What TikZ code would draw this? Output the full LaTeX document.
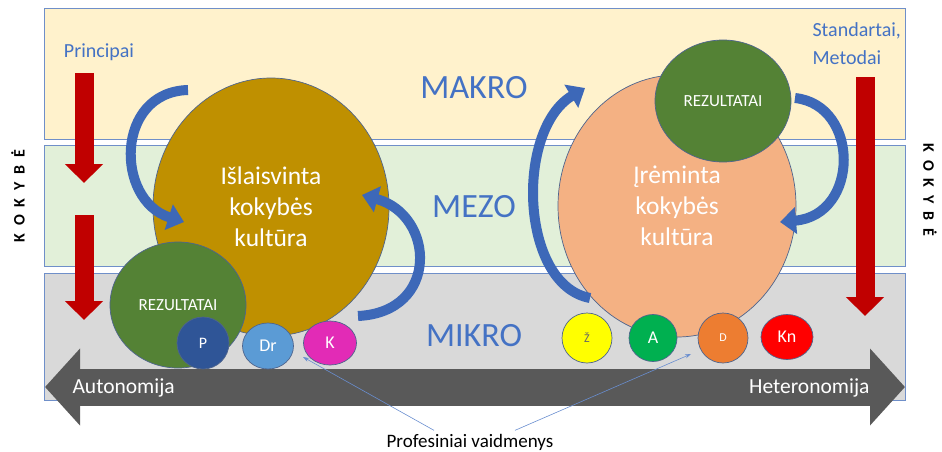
\documentclass[tikz,border=0pt]{standalone}
\usepackage{fontspec}
\setmainfont{Carlito}
\usetikzlibrary{shapes.geometric, arrows.meta, positioning}
\definecolor{makro}{HTML}{FFF2CC}
\definecolor{mezo}{HTML}{E2F0D9}
\definecolor{mikro}{HTML}{D9D9D9}
\definecolor{edge}{HTML}{6F8FC9}
\definecolor{lvl}{HTML}{4472C4}
\definecolor{gold}{HTML}{BF9000}
\definecolor{salmon}{HTML}{F4B183}
\definecolor{rez}{HTML}{548235}
\definecolor{crimson}{HTML}{C00000}
\definecolor{bluearr}{HTML}{3D68B8}
\definecolor{grayarr}{HTML}{595959}
\definecolor{roleP}{HTML}{2F5597}
\definecolor{roleDr}{HTML}{5B9BD5}
\definecolor{roleK}{HTML}{E22BB6}
\definecolor{roleZh}{HTML}{FFFF00}
\definecolor{roleA}{HTML}{00B050}
\definecolor{roleD}{HTML}{ED7D31}
\definecolor{roleKn}{HTML}{FF0000}
\newcommand{\kokybe}{K\kern8pt O\kern8pt K\kern8pt Y\kern8pt B\kern8pt Ė}
\newcommand{\fsz}[1]{\fontsize{#1}{#1}\selectfont}

\begin{document}
\begin{tikzpicture}[x=1pt,y=-1pt,
  band/.style={draw=edge,line width=0.8pt},
  blob/.style={ellipse,draw=edge!70!black,line width=0.7pt,inner sep=0pt,text=white,align=center},
  lvlname/.style={text=lvl,font=\fsz{34}},
  bluearrow/.style={draw=bluearr,line width=10pt,-{Triangle[width=26pt,length=16pt]}},
  redarrow/.style={draw=crimson,line width=19pt,-{Triangle[width=37pt,length=19pt]}},
  pointer/.style={draw=lvl!80,line width=0.6pt,-{Stealth[length=6pt,width=4pt]}}]
\useasboundingbox (0,0) rectangle (942,452);

% levels
\draw[band,fill=makro] (44,8) rectangle (905,139);
\draw[band,fill=mezo] (44,145) rectangle (905,266);
\draw[band,fill=mikro] (44,273) rectangle (905,400);
\node[lvlname] (makro) at (474,88) {MAKRO};
\node[lvlname] (mezo) at (474,207) {MEZO};
\node[lvlname] (mikro) at (474,336) {MIKRO};

% autonomija <-> heteronomija
\draw[grayarr,line width=37pt,{Triangle[width=75pt,length=35pt]}-{Triangle[width=75pt,length=35pt]}] (45,387) -- (905,387);
\node[anchor=west,text=white,font=\fsz{21.5}] (auto) at (69,388) {Autonomija};
\node[anchor=east,text=white,font=\fsz{21.5}] (hetero) at (873,388) {Heteronomija};

% cultures
\node[blob,fill=gold,minimum width=236pt,minimum height=258pt,font=\fontsize{25.5}{31}\selectfont] (laisva) at (271,207) {Išlaisvinta\\kokybės\\kultūra};
\node[blob,fill=salmon,minimum width=238pt,minimum height=262pt,font=\fontsize{25.5}{31}\selectfont] (remin) at (677,206) {Įrėminta\\kokybės\\kultūra};
\node[blob,fill=rez,minimum width=136pt,minimum height=126pt,font=\fsz{17}] (rezA) at (178,305) {REZULTATAI};
\node[blob,fill=rez,minimum width=136pt,minimum height=122pt,font=\fsz{17}] (rezB) at (723,101) {REZULTATAI};

% roles
\foreach \n/\xy/\w/\h/\c/\t/\s in {
  p/{(203,343)}/52/52/roleP/P/16,
  dr/{(268,346)}/51/46/roleDr/Dr/18,
  k/{(330,343)}/53/44/roleK/K/18,
  zh/{(587,338)}/50/50/roleZh/{\textcolor{gray!80!black}{Ž}}/12,
  a/{(653,338)}/48/47/roleA/A/18,
  d/{(723,338)}/50/50/roleD/D/12,
  kn/{(787,337)}/52/45/roleKn/Kn/18}
  \node[blob,fill=\c,minimum width=\w pt,minimum height=\h pt,font=\fsz{\s}] (\n) at \xy {\t};

% flows
\draw[bluearrow] (188,90) .. controls (115,92) and (115,200) .. (184,222);
\draw[bluearrow] (358,316) .. controls (440,312) and (435,215) .. (362,195);
\draw[bluearrow] (590,298) .. controls (520,285) and (515,130) .. (585,88);
\draw[bluearrow] (795,98) .. controls (860,105) and (860,215) .. (780,222);

\node[text=lvl,font=\fsz{20}] (princ) at (99,52) {Principai};
\node[text=lvl,font=\fontsize{20}{28}\selectfont,anchor=west,align=left] (stand) at (809,44) {Standartai,\\Metodai};
\draw[redarrow] (84,73) -- (84,183);
\draw[redarrow] (84,215) -- (84,320);
\draw[redarrow] (865,77) -- (865,316);

\node[rotate=90,font=\fsz{16}\bfseries] (kokL) at (18,196) {\kokybe};
\node[rotate=-90,font=\fsz{16}\bfseries] (kokR) at (930,190) {\kokybe};

% pointers
\node[font=\fsz{19}] (roles) at (470,442) {Profesiniai vaidmenys};
\coordinate (tipL) at (303,357);
\coordinate (tipR) at (691,354);
\draw[pointer] ([xshift=-36pt]roles.north) -- (tipL);
\draw[pointer] ([xshift=45pt]roles.north) -- (tipR);
\end{tikzpicture}
\end{document}
